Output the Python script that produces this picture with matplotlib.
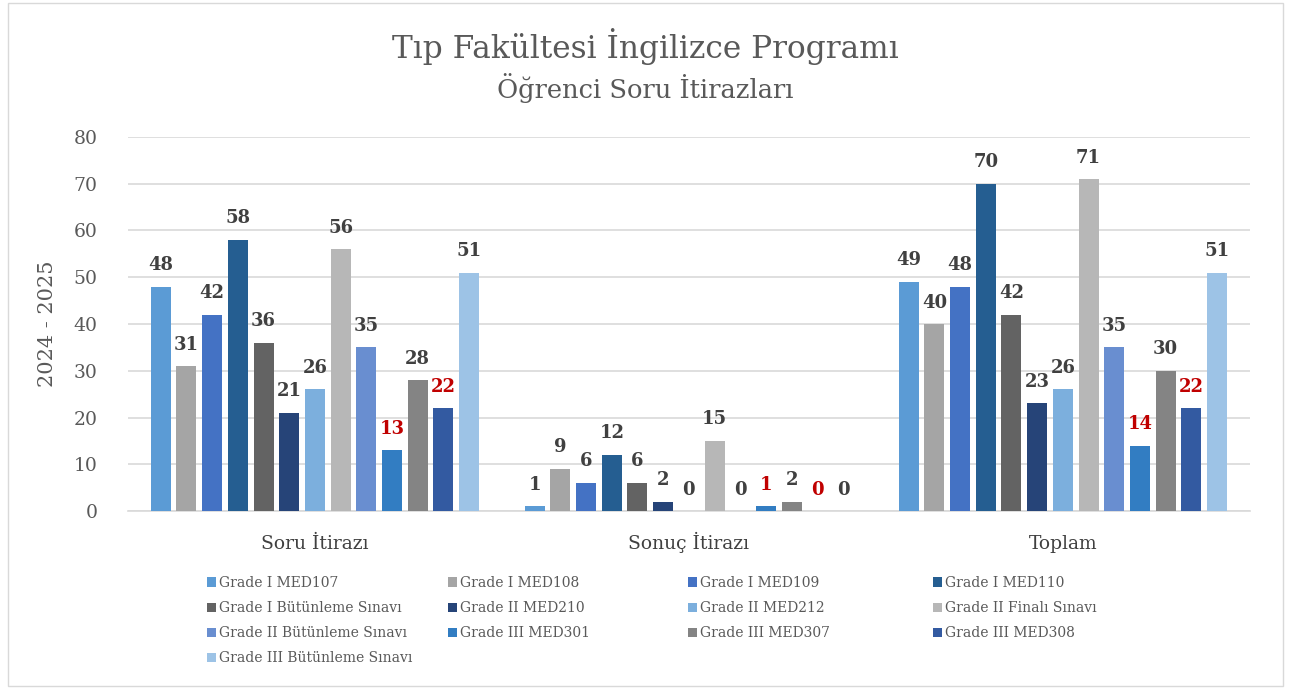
import numpy as np
import matplotlib
matplotlib.use('Agg')
import matplotlib.pyplot as plt
from matplotlib.patches import Rectangle

plt.rcParams['font.family'] = ['DejaVu Serif']

# veri
categories = ['Soru İtirazı', 'Sonuç İtirazı', 'Toplam']
series = ['Grade I MED107', 'Grade I MED108', 'Grade I MED109', 'Grade I MED110',
          'Grade I Bütünleme Sınavı', 'Grade II MED210', 'Grade II MED212',
          'Grade II Finalı Sınavı', 'Grade II Bütünleme Sınavı', 'Grade III MED301',
          'Grade III MED307', 'Grade III MED308', 'Grade III Bütünleme Sınavı']
soru = [48, 31, 42, 58, 36, 21, 26, 56, 35, 13, 28, 22, 51]
sonuc = [1, 9, 6, 12, 6, 2, 0, 15, 0, 1, 2, 0, 0]
toplam = [49, 40, 48, 70, 42, 23, 26, 71, 35, 14, 30, 22, 51]
yticks = [0, 10, 20, 30, 40, 50, 60, 70, 80]

colors = ['#5B9BD5', '#A5A5A5', '#4472C4', '#255E91', '#636363', '#264478',
          '#7CAFDD', '#B7B7B7', '#698ED0', '#327DC2', '#848484', '#335AA1',
          '#9DC3E6']
red_series = {9, 11}

values = np.array([soru, sonuc, toplam])

fig = plt.figure(figsize=(12.91, 6.89), dpi=100)
fig.patches.append(Rectangle((0.006, 0.005), 0.988, 0.99, transform=fig.transFigure,
                             fill=False, edgecolor='#D9D9D9', linewidth=1))
ax = fig.add_axes([0.0991, 0.2583, 0.869, 0.5429])

step = 0.0687
width = 0.0535
x = np.arange(len(categories))
n = len(series)
handles = []
for i in range(n):
    pos = x + (i - (n - 1) / 2) * step
    bars = ax.bar(pos, values[:, i], width=width, color=colors[i], label=series[i], zorder=3)
    handles.append(bars)
    for b, v in zip(bars, values[:, i]):
        ax.annotate(str(v), (b.get_x() + b.get_width() / 2, v), xytext=(0, 9),
                    textcoords='offset points', ha='center', va='bottom',
                    fontsize=13, fontweight='bold',
                    color='#C00000' if i in red_series else '#404040')

ax.set_xlim(-0.5, 2.5)
ax.set_ylim(0, 80)
ax.set_yticks(yticks)
ax.set_xticks(x)
ax.set_xticklabels(categories, fontsize=13.5, color='#404040', va='baseline')
ax.tick_params(axis='y', labelsize=13.5, colors='#595959', length=0, pad=22)
ax.tick_params(axis='x', length=0, pad=27)
ax.grid(axis='y', color='#D9D9D9', linewidth=1.2, zorder=0)
for s in ['top', 'right', 'left']:
    ax.spines[s].set_visible(False)
ax.spines['bottom'].set_color('#D9D9D9')
ax.spines['bottom'].set_linewidth(1.2)
ax.set_ylabel('2024 - 2025', fontsize=15, color='#595959', labelpad=12)

fig.text(0.5, 0.932, 'Tıp Fakültesi İngilizce Programı', ha='center', va='center',
         fontsize=22.5, color='#595959')
fig.text(0.5, 0.872, 'Öğrenci Soru İtirazları', ha='center', va='center',
         fontsize=18.5, color='#595959')

# legend: 4 sütun, satır sırasıyla
col_x = [0.1603, 0.347, 0.5329, 0.7227]
for c in range(4):
    idx = [i for i in range(c, n, 4)]
    leg = fig.legend([handles[i] for i in idx], [series[i] for i in idx],
                     loc='upper left', bbox_to_anchor=(col_x[c], 0.164),
                     frameon=False, borderpad=0, borderaxespad=0,
                     fontsize=10, handlelength=0.65, handleheight=0.65,
                     handletextpad=0.2, labelspacing=0.8, labelcolor='#595959')

fig.savefig('out.png', dpi=100)
